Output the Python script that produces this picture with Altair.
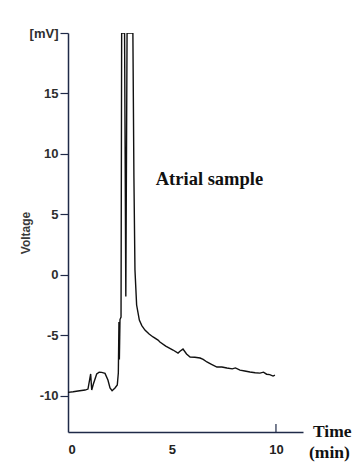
import altair as alt
import pandas as pd

# Chromatogram trace (time in min, voltage in mV)
time_min = [0.0, 0.25, 0.48, 0.82, 0.96, 1.09, 1.14, 1.22, 1.38, 1.50, 1.62, 1.78, 1.92,
            2.02, 2.12, 2.26, 2.37, 2.42, 2.45, 2.47, 2.50, 2.55, 2.58, 2.72, 2.78,
            2.84, 3.12, 3.17, 3.22, 3.30, 3.43, 3.55, 3.70, 3.90, 4.09, 4.33, 4.42,
            4.70, 5.05, 5.29, 5.40, 5.53, 5.70, 5.87, 6.10, 6.35, 6.50, 6.68, 6.90,
            7.16, 7.40, 7.64, 7.90, 8.05, 8.27, 8.50, 8.75, 9.00, 9.23, 9.40, 9.55,
            9.70, 9.86, 9.95]
voltage_mv = [-9.72, -9.67, -9.61, -9.53, -9.45, -8.2, -9.53, -9.03, -8.2, -8.05, -8.07,
              -8.15, -8.7, -9.36, -9.59, -9.36, -9.11, -8.12, -3.9, -7.0, -3.7, -3.5, 20.0,
              20.0, -1.8, 20.0, 20.0, 8.0, 0.4, -2.5, -3.74, -4.2, -4.57, -4.9, -5.14,
              -5.4, -5.56, -5.9, -6.22, -6.47, -6.3, -6.14, -6.55, -6.8, -6.82, -6.88,
              -7.0, -7.21, -7.4, -7.63, -7.62, -7.71, -7.78, -7.7, -7.88, -7.95, -8.04,
              -8.1, -8.13, -8.05, -8.22, -8.25, -8.37, -8.29]

x_ticks = [0, 5, 10]
y_ticks = [-10, -5, 0, 5, 10, 15, 20]
annotation = ["Atrial sample"]
x_title = ["Time", "(min)"]

df = pd.DataFrame({"t": time_min, "v": voltage_mv, "i": list(range(len(time_min)))})
one = pd.DataFrame({"k": [0]})

AXIS = "#1f2a48"

xscale = alt.Scale(domain=[0, 11.3], nice=False, zero=False)
yscale = alt.Scale(domain=[-13, 20], nice=False, zero=False)

line = alt.Chart(df).mark_line(color="#111111", strokeWidth=1.4, clip=True).encode(
    x=alt.X("t:Q", scale=xscale,
            axis=alt.Axis(values=x_ticks, title=None, grid=False, ticks=False,
                          domainColor=AXIS, domainWidth=1.5,
                          labelFont="Liberation Sans", labelFontWeight="bold",
                          labelFontSize=13, labelPadding=11, labelColor="#222222")),
    y=alt.Y("v:Q", scale=yscale,
            axis=alt.Axis(values=y_ticks, grid=False,
                          labelExpr="datum.value == 20 ? '[mV]' : toString(datum.value)",
                          domainColor=AXIS, domainWidth=1.5, tickColor=AXIS, tickSize=8,
                          tickWidth=1.2, labelPadding=2,
                          labelFont="Liberation Sans", labelFontSize=13,
                          labelFontWeight="bold", labelColor="#2e2e2e",
                          title="Voltage", titleFont="Liberation Sans", titleFontSize=12,
                          titleFontWeight="bold", titleColor="#3a3a3a",
                          titleAngle=270, titleX=-43, titleY=199.5,
                          titleAlign="center", titleBaseline="middle")),
    order="i:Q",
)

tick10 = alt.Chart(one).mark_rule(color=AXIS, strokeWidth=1.2).encode(
    x=alt.datum(10), y=alt.value(391), y2=alt.value(399)
)

label = alt.Chart(one).mark_text(
    align="left", baseline="middle", font="Liberation Serif", fontWeight="bold",
    fontSize=18.5, color="#111111"
).encode(x=alt.datum(4.22), y=alt.datum(7.9), text=alt.value(annotation[0]))

time_lbl = alt.Chart(one).mark_text(
    align="left", baseline="middle", font="Liberation Serif", fontWeight="bold",
    fontSize=17.5, color="#111111"
).encode(x=alt.value(245), y=alt.value(399), text=alt.value(x_title[0]))

min_lbl = alt.Chart(one).mark_text(
    align="left", baseline="middle", font="Liberation Serif", fontWeight="bold",
    fontSize=17.5, color="#111111"
).encode(x=alt.value(241), y=alt.value(420), text=alt.value(x_title[1]))

chart = alt.layer(line, tick10, label, time_lbl, min_lbl).properties(
    width=235, height=399,
    autosize=alt.AutoSizeParams(type="none"),
    padding={"left": 68, "top": 33, "right": 54, "bottom": 30},
    background="white",
).configure_view(stroke=None)

chart.save("out.html", embed_options={"renderer": "svg", "actions": False})
